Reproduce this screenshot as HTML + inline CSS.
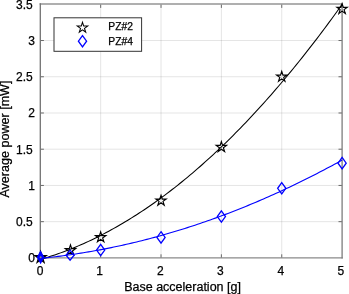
<!DOCTYPE html>
<html><head><meta charset="utf-8"><style>
html,body{margin:0;padding:0;background:#fff;}
svg{display:block;will-change:transform;font-family:"Liberation Sans",sans-serif;}
text{stroke:#000;stroke-width:0.25px;}
</style></head><body>
<svg width="349" height="294" viewBox="0 0 349 294" fill="#000">
<rect width="349" height="294" fill="#fff"/>
<line x1="100.66" y1="4.3" x2="100.66" y2="257.9" stroke="rgba(38,38,38,0.12)" stroke-width="1"/>
<line x1="161.02" y1="4.3" x2="161.02" y2="257.9" stroke="rgba(38,38,38,0.12)" stroke-width="1"/>
<line x1="221.38" y1="4.3" x2="221.38" y2="257.9" stroke="rgba(38,38,38,0.12)" stroke-width="1"/>
<line x1="281.74" y1="4.3" x2="281.74" y2="257.9" stroke="rgba(38,38,38,0.12)" stroke-width="1"/>
<line x1="40.3" y1="221.67" x2="342.1" y2="221.67" stroke="rgba(38,38,38,0.12)" stroke-width="1"/>
<line x1="40.3" y1="185.44" x2="342.1" y2="185.44" stroke="rgba(38,38,38,0.12)" stroke-width="1"/>
<line x1="40.3" y1="149.21" x2="342.1" y2="149.21" stroke="rgba(38,38,38,0.12)" stroke-width="1"/>
<line x1="40.3" y1="112.99" x2="342.1" y2="112.99" stroke="rgba(38,38,38,0.12)" stroke-width="1"/>
<line x1="40.3" y1="76.76" x2="342.1" y2="76.76" stroke="rgba(38,38,38,0.12)" stroke-width="1"/>
<line x1="40.3" y1="40.53" x2="342.1" y2="40.53" stroke="rgba(38,38,38,0.12)" stroke-width="1"/>
<line x1="100.66" y1="257.9" x2="100.66" y2="254.29999999999998" stroke="#6a6a6a" stroke-width="1"/>
<line x1="100.66" y1="4.3" x2="100.66" y2="7.9" stroke="#6a6a6a" stroke-width="1"/>
<line x1="161.02" y1="257.9" x2="161.02" y2="254.29999999999998" stroke="#6a6a6a" stroke-width="1"/>
<line x1="161.02" y1="4.3" x2="161.02" y2="7.9" stroke="#6a6a6a" stroke-width="1"/>
<line x1="221.38" y1="257.9" x2="221.38" y2="254.29999999999998" stroke="#6a6a6a" stroke-width="1"/>
<line x1="221.38" y1="4.3" x2="221.38" y2="7.9" stroke="#6a6a6a" stroke-width="1"/>
<line x1="281.74" y1="257.9" x2="281.74" y2="254.29999999999998" stroke="#6a6a6a" stroke-width="1"/>
<line x1="281.74" y1="4.3" x2="281.74" y2="7.9" stroke="#6a6a6a" stroke-width="1"/>
<line x1="40.3" y1="221.67" x2="43.9" y2="221.67" stroke="#6a6a6a" stroke-width="1"/>
<line x1="342.1" y1="221.67" x2="338.5" y2="221.67" stroke="#6a6a6a" stroke-width="1"/>
<line x1="40.3" y1="185.44" x2="43.9" y2="185.44" stroke="#6a6a6a" stroke-width="1"/>
<line x1="342.1" y1="185.44" x2="338.5" y2="185.44" stroke="#6a6a6a" stroke-width="1"/>
<line x1="40.3" y1="149.21" x2="43.9" y2="149.21" stroke="#6a6a6a" stroke-width="1"/>
<line x1="342.1" y1="149.21" x2="338.5" y2="149.21" stroke="#6a6a6a" stroke-width="1"/>
<line x1="40.3" y1="112.99" x2="43.9" y2="112.99" stroke="#6a6a6a" stroke-width="1"/>
<line x1="342.1" y1="112.99" x2="338.5" y2="112.99" stroke="#6a6a6a" stroke-width="1"/>
<line x1="40.3" y1="76.76" x2="43.9" y2="76.76" stroke="#6a6a6a" stroke-width="1"/>
<line x1="342.1" y1="76.76" x2="338.5" y2="76.76" stroke="#6a6a6a" stroke-width="1"/>
<line x1="40.3" y1="40.53" x2="43.9" y2="40.53" stroke="#6a6a6a" stroke-width="1"/>
<line x1="342.1" y1="40.53" x2="338.5" y2="40.53" stroke="#6a6a6a" stroke-width="1"/>
<line x1="39.65" y1="4.0" x2="342.75" y2="4.0" stroke="#959595" stroke-width="1.5"/>
<line x1="39.65" y1="257.9" x2="342.75" y2="257.9" stroke="#8a8a8a" stroke-width="1.3"/>
<line x1="40.3" y1="3.25" x2="40.3" y2="258.54999999999995" stroke="#727272" stroke-width="1.3"/>
<line x1="342.1" y1="3.25" x2="342.1" y2="258.54999999999995" stroke="#7c7c7c" stroke-width="1.3"/>
<path d="M40.30,259.43 L42.84,258.69 L45.37,257.93 L47.91,257.15 L50.44,256.34 L52.98,255.51 L55.52,254.66 L58.05,253.78 L60.59,252.87 L63.13,251.95 L65.66,251.00 L68.20,250.02 L70.73,249.02 L73.27,248.00 L75.81,246.96 L78.34,245.89 L80.88,244.79 L83.41,243.67 L85.95,242.53 L88.49,241.37 L91.02,240.18 L93.56,238.97 L96.09,237.73 L98.63,236.47 L101.17,235.18 L103.70,233.87 L106.24,232.54 L108.78,231.19 L111.31,229.81 L113.85,228.40 L116.38,226.98 L118.92,225.52 L121.46,224.05 L123.99,222.55 L126.53,221.03 L129.06,219.48 L131.60,217.91 L134.14,216.31 L136.67,214.70 L139.21,213.05 L141.75,211.39 L144.28,209.70 L146.82,207.98 L149.35,206.24 L151.89,204.48 L154.43,202.70 L156.96,200.89 L159.50,199.06 L162.03,197.20 L164.57,195.32 L167.11,193.41 L169.64,191.48 L172.18,189.53 L174.72,187.56 L177.25,185.56 L179.79,183.53 L182.32,181.48 L184.86,179.41 L187.40,177.32 L189.93,175.20 L192.47,173.05 L195.00,170.89 L197.54,168.70 L200.08,166.48 L202.61,164.24 L205.15,161.98 L207.68,159.69 L210.22,157.38 L212.76,155.05 L215.29,152.69 L217.83,150.31 L220.37,147.90 L222.90,145.47 L225.44,143.02 L227.97,140.54 L230.51,138.04 L233.05,135.52 L235.58,132.97 L238.12,130.40 L240.65,127.80 L243.19,125.18 L245.73,122.53 L248.26,119.87 L250.80,117.17 L253.34,114.46 L255.87,111.72 L258.41,108.96 L260.94,106.17 L263.48,103.36 L266.02,100.52 L268.55,97.66 L271.09,94.78 L273.62,91.87 L276.16,88.94 L278.70,85.99 L281.23,83.01 L283.77,80.01 L286.31,76.98 L288.84,73.93 L291.38,70.86 L293.91,67.76 L296.45,64.64 L298.99,61.50 L301.52,58.33 L304.06,55.14 L306.59,51.92 L309.13,48.68 L311.67,45.41 L314.20,42.13 L316.74,38.81 L319.27,35.48 L321.81,32.12 L324.35,28.73 L326.88,25.33 L329.42,21.89 L331.96,18.44 L334.49,14.96 L337.03,11.46 L339.56,7.93 L342.10,4.38" fill="none" stroke="#000" stroke-width="1.05"/>
<path d="M40.60,252.00 L41.83,255.80 L45.83,255.80 L42.60,258.15 L43.83,261.95 L40.60,259.60 L37.37,261.95 L38.60,258.15 L35.37,255.80 L39.37,255.80Z" fill="none" stroke="#000" stroke-width="1.5" stroke-linejoin="miter"/>
<path d="M70.48,244.84 L71.70,248.61 L75.66,248.61 L72.46,250.94 L73.68,254.70 L70.48,252.37 L67.28,254.70 L68.50,250.94 L65.30,248.61 L69.26,248.61Z" fill="none" stroke="#000" stroke-width="1.15" stroke-linejoin="miter"/>
<path d="M100.66,231.87 L101.88,235.64 L105.84,235.64 L102.64,237.97 L103.86,241.73 L100.66,239.40 L97.46,241.73 L98.68,237.97 L95.48,235.64 L99.44,235.64Z" fill="none" stroke="#000" stroke-width="1.15" stroke-linejoin="miter"/>
<path d="M161.02,195.28 L162.24,199.05 L166.20,199.05 L163.00,201.37 L164.22,205.14 L161.02,202.81 L157.82,205.14 L159.04,201.37 L155.84,199.05 L159.80,199.05Z" fill="none" stroke="#000" stroke-width="1.15" stroke-linejoin="miter"/>
<path d="M221.38,141.66 L222.60,145.43 L226.56,145.43 L223.36,147.76 L224.58,151.52 L221.38,149.19 L218.18,151.52 L219.40,147.76 L216.20,145.43 L220.16,145.43Z" fill="none" stroke="#000" stroke-width="1.15" stroke-linejoin="miter"/>
<path d="M281.74,71.31 L282.96,75.07 L286.92,75.07 L283.72,77.40 L284.94,81.17 L281.74,78.84 L278.54,81.17 L279.76,77.40 L276.56,75.07 L280.52,75.07Z" fill="none" stroke="#000" stroke-width="1.15" stroke-linejoin="miter"/>
<path d="M342.10,3.56 L343.32,7.33 L347.28,7.33 L344.08,9.65 L345.30,13.42 L342.10,11.09 L338.90,13.42 L340.12,9.65 L336.92,7.33 L340.88,7.33Z" fill="none" stroke="#000" stroke-width="1.15" stroke-linejoin="miter"/>
<path d="M40.30,258.40 L42.84,258.14 L45.37,257.88 L47.91,257.60 L50.44,257.32 L52.98,257.03 L55.52,256.72 L58.05,256.41 L60.59,256.09 L63.13,255.76 L65.66,255.42 L68.20,255.06 L70.73,254.70 L73.27,254.33 L75.81,253.95 L78.34,253.56 L80.88,253.16 L83.41,252.75 L85.95,252.33 L88.49,251.90 L91.02,251.47 L93.56,251.02 L96.09,250.56 L98.63,250.09 L101.17,249.61 L103.70,249.13 L106.24,248.63 L108.78,248.13 L111.31,247.61 L113.85,247.08 L116.38,246.55 L118.92,246.00 L121.46,245.45 L123.99,244.88 L126.53,244.31 L129.06,243.73 L131.60,243.13 L134.14,242.53 L136.67,241.92 L139.21,241.29 L141.75,240.66 L144.28,240.02 L146.82,239.37 L149.35,238.71 L151.89,238.04 L154.43,237.36 L156.96,236.67 L159.50,235.97 L162.03,235.26 L164.57,234.54 L167.11,233.81 L169.64,233.07 L172.18,232.32 L174.72,231.56 L177.25,230.79 L179.79,230.02 L182.32,229.23 L184.86,228.43 L187.40,227.63 L189.93,226.81 L192.47,225.99 L195.00,225.15 L197.54,224.30 L200.08,223.45 L202.61,222.58 L205.15,221.71 L207.68,220.83 L210.22,219.93 L212.76,219.03 L215.29,218.12 L217.83,217.19 L220.37,216.26 L222.90,215.32 L225.44,214.37 L227.97,213.41 L230.51,212.44 L233.05,211.46 L235.58,210.46 L238.12,209.46 L240.65,208.45 L243.19,207.44 L245.73,206.41 L248.26,205.37 L250.80,204.32 L253.34,203.26 L255.87,202.19 L258.41,201.12 L260.94,200.03 L263.48,198.93 L266.02,197.82 L268.55,196.71 L271.09,195.58 L273.62,194.45 L276.16,193.30 L278.70,192.15 L281.23,190.98 L283.77,189.81 L286.31,188.62 L288.84,187.43 L291.38,186.23 L293.91,185.01 L296.45,183.79 L298.99,182.56 L301.52,181.32 L304.06,180.06 L306.59,178.80 L309.13,177.53 L311.67,176.25 L314.20,174.96 L316.74,173.66 L319.27,172.35 L321.81,171.03 L324.35,169.70 L326.88,168.36 L329.42,167.01 L331.96,165.66 L334.49,164.29 L337.03,162.91 L339.56,161.52 L342.10,160.12" fill="none" stroke="#0000ff" stroke-width="1.1"/>
<path d="M40.60,251.70 L43.70,257.30 L40.60,262.90 L37.50,257.30Z" fill="#0000ff" stroke="#0000ff" stroke-width="1.3"/>
<circle cx="40.60" cy="257.30" r="1.0" fill="#8c8a70"/>
<path d="M70.08,250.15 L74.08,255.15 L70.08,260.15 L66.08,255.15Z" fill="none" stroke="#0000ff" stroke-width="1.3"/>
<path d="M100.66,244.40 L104.76,250.05 L100.66,255.70 L96.56,250.05Z" fill="none" stroke="#0000ff" stroke-width="1.3"/>
<path d="M161.02,231.74 L165.12,237.39 L161.02,243.04 L156.92,237.39Z" fill="none" stroke="#0000ff" stroke-width="1.3"/>
<path d="M221.38,210.88 L225.48,216.53 L221.38,222.18 L217.28,216.53Z" fill="none" stroke="#0000ff" stroke-width="1.3"/>
<path d="M281.74,182.62 L285.84,188.27 L281.74,193.92 L277.64,188.27Z" fill="none" stroke="#0000ff" stroke-width="1.3"/>
<path d="M342.10,157.48 L346.20,163.13 L342.10,168.78 L338.00,163.13Z" fill="none" stroke="#0000ff" stroke-width="1.3"/>
<rect x="54" y="17.8" width="87.6" height="33.5" fill="#fff" stroke="#333" stroke-width="1"/>
<path d="M82.50,22.30 L83.72,26.07 L87.68,26.07 L84.48,28.39 L85.70,32.16 L82.50,29.83 L79.30,32.16 L80.52,28.39 L77.32,26.07 L81.28,26.07Z" fill="none" stroke="#000" stroke-width="1.05"/>
<path d="M82.50,35.55 L86.60,41.20 L82.50,46.85 L78.40,41.20Z" fill="none" stroke="#0000ff" stroke-width="1.3"/>
<text x="108.3" y="30.3" font-size="10.3">PZ#2</text>
<text x="108.3" y="44.9" font-size="10.3">PZ#4</text>
<text x="34.9" y="262.30" font-size="12" text-anchor="end">0</text>
<text x="32.7" y="226.07" font-size="12" text-anchor="end">0.5</text>
<text x="34.9" y="189.84" font-size="12" text-anchor="end">1</text>
<text x="32.7" y="153.61" font-size="12" text-anchor="end">1.5</text>
<text x="34.9" y="117.39" font-size="12" text-anchor="end">2</text>
<text x="32.7" y="81.16" font-size="12" text-anchor="end">2.5</text>
<text x="34.9" y="44.93" font-size="12" text-anchor="end">3</text>
<text x="32.7" y="8.70" font-size="12" text-anchor="end">3.5</text>
<text x="40.00" y="274.6" font-size="12" text-anchor="middle">0</text>
<text x="99.66" y="274.6" font-size="12" text-anchor="middle">1</text>
<text x="160.42" y="274.6" font-size="12" text-anchor="middle">2</text>
<text x="220.28" y="274.6" font-size="12" text-anchor="middle">3</text>
<text x="280.94" y="274.6" font-size="12" text-anchor="middle">4</text>
<text x="340.80" y="274.6" font-size="12" text-anchor="middle">5</text>
<text x="124.2" y="291.0" font-size="12.5">Base acceleration [g]</text>
<text transform="translate(9.1,197.6) rotate(-90)" font-size="12.57">Average power [mW]</text>
</svg></body></html>
